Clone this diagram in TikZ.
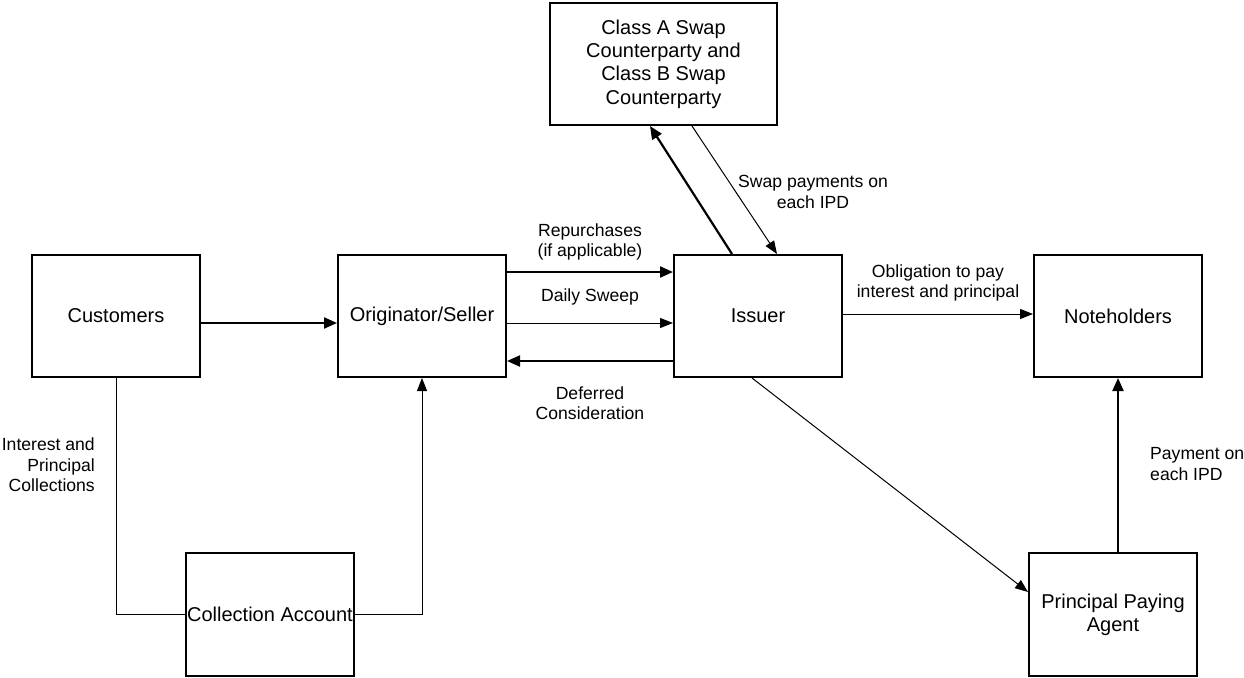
\documentclass[tikz,border=0pt]{standalone}
\usepackage{fontspec}
\setmainfont{Liberation Sans}
\usetikzlibrary{arrows.meta,calc}
\begin{document}
\begin{tikzpicture}[x=1pt,y=-1pt,
  box/.style={draw, line width=2pt, inner sep=0pt, minimum width=168pt, minimum height=122pt,
    align=center, font=\fontsize{20}{23.3}\selectfont},
  lbl/.style={inner sep=0pt, font=\fontsize{17.6}{20.5}\selectfont},
  thickarr/.style={line width=2.2pt, -{Triangle[length=13pt,width=11pt]}},
  thinarr/.style={line width=1pt, -{Triangle[length=13pt,width=10pt]}},
  thinline/.style={line width=1pt}]
\useasboundingbox (0,0) rectangle (1244,677);
\node[box] (cust) at (116,316) {Customers};
\node[box] (orig) at (422,316) {Originator/Seller};
\node[box] (iss) at (758,316) {Issuer};
\node[box] (note) at (1118,316) {Noteholders};
\node[box, minimum height=123pt] (ppa) at (1113,614.5) {Principal Paying\\Agent};
\node[box, minimum height=123pt] (ca) at (270,614.5) {Collection Account};
\node[box, minimum width=227pt] (swap) at (663.5,64) {Class A Swap\\Counterparty and\\Class B Swap\\Counterparty};

% connectors
\draw[thickarr] (cust.east |- 0,323) -- (orig.west |- 0,323);
\draw[thickarr] (orig.east |- 0,272) -- (iss.west |- 0,272);
\draw[thinarr] (orig.east |- 0,323) -- (iss.west |- 0,323);
\draw[thickarr] (iss.west |- 0,361) -- (orig.east |- 0,361);
\draw[thinarr] (iss.east |- 0,314) -- (note.west |- 0,314);
\draw[thickarr] (iss.north -| 732,0) -- (swap.south -| 650,0);
\draw[thinarr] (swap.south -| 692,0) -- (iss.north -| 777,0);
\draw[thinarr] (iss.south -| 752,0) -- (ppa.west |- 0,592);
\draw[thickarr] (note.south |- ppa.north) -- (note.south);
\draw[thinline] (cust.south) -- (cust.south |- ca.west) -- (ca.west);
\draw[thinarr] (ca.east) -| (orig.south);

% labels
\node[lbl, align=center] (lrep) at (590,242) {Repurchases\\(if applicable)};
\node[lbl] (lds) at (590,297) {Daily Sweep};
\node[lbl, align=center] (ldc) at (590,403) {Deferred\\Consideration};
\node[lbl, align=center] (lobl) at (938,283) {Obligation to pay\\interest and principal};
\node[lbl, align=center] (lswap) at (813,192) {Swap payments on\\each IPD};
\node[lbl, align=left, anchor=west] (lpay) at (1150,464) {Payment on\\each IPD};
\node[lbl, align=right, anchor=east] (lint) at (95,465) {Interest and\\Principal\\Collections};
\end{tikzpicture}
\end{document}
